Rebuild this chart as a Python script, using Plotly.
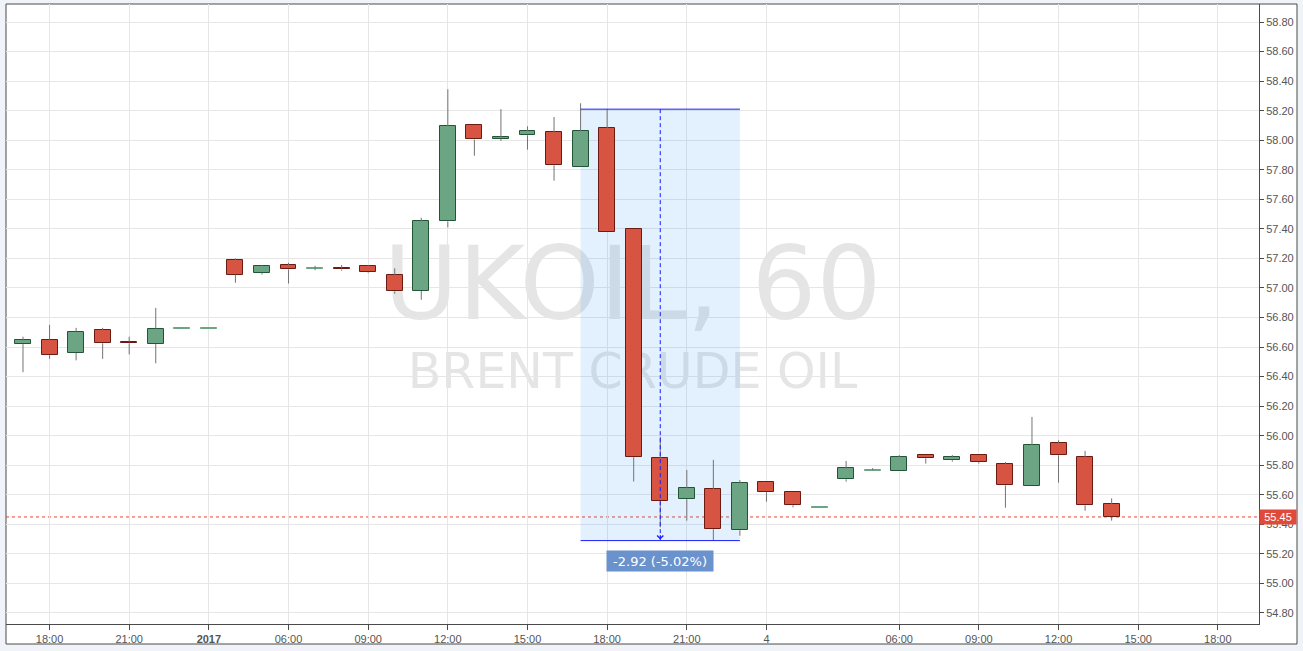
import plotly.graph_objects as go

# ---- data (UKOIL, 60-minute bars) ----
bar_index = list(range(42))
opens = [56.62, 56.65, 56.56, 56.715, 56.635, 56.62, 56.725, 56.725,
         57.19, 57.10, 57.155, 57.133, 57.133, 57.146, 57.086, 56.98,
         57.45, 58.10, 58.01, 58.033, 58.053, 57.82, 58.08, 57.397,
         55.847, 55.57, 55.637, 55.36, 55.685, 55.617, 55.515, 55.705,
         55.766, 55.759, 55.867, 55.834, 55.867, 55.807, 55.658, 55.949,
         55.854, 55.536]
highs = [56.67, 56.75, 56.73, 56.73, 56.67, 56.865, 56.725, 56.725,
         57.20, 57.155, 57.17, 57.15, 57.155, 57.155, 57.133, 57.475,
         58.345, 58.10, 58.21, 58.094, 58.157, 58.25, 58.21, 57.40,
         55.993, 55.768, 55.836, 55.70, 55.685, 55.617, 55.515, 55.829,
         55.781, 55.869, 55.867, 55.869, 55.867, 55.822, 56.127, 55.969,
         55.897, 55.576]
lows = [56.43, 56.52, 56.51, 56.52, 56.55, 56.49, 56.725, 56.725,
        57.035, 57.09, 57.03, 57.12, 57.117, 57.10, 56.961, 56.92,
        57.41, 57.895, 57.995, 57.936, 57.726, 57.82, 57.377, 55.69,
        55.38, 55.425, 55.29, 55.323, 55.553, 55.515, 55.515, 55.689,
        55.766, 55.759, 55.811, 55.824, 55.811, 55.513, 55.658, 55.682,
        55.492, 55.425]
closes = [56.645, 56.545, 56.705, 56.625, 56.625, 56.725, 56.725, 56.725,
          57.09, 57.15, 57.125, 57.133, 57.125, 57.106, 56.977, 57.45,
          58.095, 58.005, 58.02, 58.06, 57.83, 58.06, 57.377, 55.854,
          55.556, 55.644, 55.367, 55.678, 55.617, 55.529, 55.515, 55.779,
          55.766, 55.854, 55.847, 55.854, 55.82, 55.664, 55.935, 55.867,
          55.529, 55.45]

tick_positions = [1, 4, 7, 10, 13, 16, 19, 22, 25, 28, 33, 36, 39, 42, 45]
tick_labels = ["18:00", "21:00", "<b>2017</b>", "06:00", "09:00", "12:00",
               "15:00", "18:00", "21:00", "4", "06:00", "09:00", "12:00",
               "15:00", "18:00"]
price_ticks = [round(54.8 + 0.2 * i, 2) for i in range(21)]

# measurement tool: from bar 21 to bar 27, high of bar 22 to low of bar 26
measure_x0, measure_x1 = 21, 27
measure_top = highs[22]
measure_bottom = lows[26]
last_close = closes[-1]

# ---- styles ----
UP_FILL, UP_LINE = "#6ba583", "#225437"
DN_FILL, DN_LINE = "#d75442", "#6b1b12"
WICK = "#737373"
GRID = "#e6e6e6"
AXIS = "#4a4a4a"
MIN_BODY = 0.004

bases, heights, fills, borders = [], [], [], []
for o, c in zip(opens, closes):
    up = c >= o
    lo, hi = min(o, c), max(o, c)
    h = hi - lo
    flat = h < 1e-9
    if h < MIN_BODY:
        lo = (lo + hi) / 2 - MIN_BODY / 2
        h = MIN_BODY
    bases.append(lo)
    heights.append(h)
    fills.append(UP_FILL if up else DN_FILL)
    if flat:
        borders.append(UP_FILL if up else DN_FILL)
    else:
        borders.append(UP_LINE if up else DN_LINE)

wx, wy = [], []
for i, o, h, l, c in zip(bar_index, opens, highs, lows, closes):
    top, bot = max(o, c), min(o, c)
    if h > top:
        wx += [i, i, None]
        wy += [top, h, None]
    if l < bot:
        wx += [i, i, None]
        wy += [l, bot, None]

fig = go.Figure()
fig.add_trace(go.Bar(
    x=bar_index, y=heights, base=bases, width=0.6,
    marker=dict(color=fills, line=dict(color=borders, width=1)),
    hoverinfo="skip", showlegend=False))
fig.add_trace(go.Scatter(
    x=wx, y=wy, mode="lines", line=dict(color=WICK, width=1),
    hoverinfo="skip", showlegend=False, connectgaps=False))

# plot geometry (pixels)
W, H = 1303, 651
ML, MR, MT, MB = 6, 44, 4, 27
PW, PH = W - ML - MR, H - MT - MB

shapes = [
    # white chart frame including the axes area
    dict(type="rect", xref="paper", yref="paper", x0=0, x1=1 + 38 / PW,
         y0=-20 / PH, y1=1, fillcolor="white",
         line=dict(color=AXIS, width=1), layer="below"),
    # watermark
    dict(type="rect", xref="paper", yref="paper", x0=0, x1=1,
         y0=0.51, y1=0.61, line=dict(width=0), fillcolor="rgba(0,0,0,0)",
         layer="between",
         label=dict(text="UKOIL, 60", textposition="middle center",
                    font=dict(family="DejaVu Sans", size=102,
                              color="rgba(110,110,110,0.18)"))),
    dict(type="rect", xref="paper", yref="paper", x0=0, x1=1,
         y0=0.363, y1=0.463, line=dict(width=0), fillcolor="rgba(0,0,0,0)",
         layer="between",
         label=dict(text="BRENT CRUDE OIL", textposition="middle center",
                    font=dict(family="DejaVu Sans", size=49,
                              color="rgba(110,110,110,0.18)"))),
    # measurement area
    dict(type="rect", xref="x", yref="y", x0=measure_x0, x1=measure_x1,
         y0=measure_bottom, y1=measure_top,
         fillcolor="rgba(33,150,243,0.13)", line=dict(width=0),
         layer="between"),
    # last price dotted line
    dict(type="line", xref="paper", yref="y", x0=0, x1=1,
         y0=last_close, y1=last_close,
         line=dict(color="#e8442f", width=1, dash="dot"), layer="between"),
    # measurement lines
    dict(type="line", xref="x", yref="y", x0=measure_x0, x1=measure_x1,
         y0=measure_top, y1=measure_top,
         line=dict(color="#1a1aff", width=1), layer="above"),
    dict(type="line", xref="x", yref="y", x0=measure_x0, x1=measure_x1,
         y0=measure_bottom, y1=measure_bottom,
         line=dict(color="#1a1aff", width=1), layer="above"),
    dict(type="line", xref="x", yref="y",
         x0=(measure_x0 + measure_x1) / 2, x1=(measure_x0 + measure_x1) / 2,
         y0=measure_top, y1=measure_bottom,
         line=dict(color="#1a1aff", width=1, dash="4px,3px"), layer="above"),
]

change = measure_bottom - measure_top
pct = change / measure_top * 100
mid_x = (measure_x0 + measure_x1) / 2

annotations = [
    dict(x=mid_x, y=measure_bottom, xref="x", yref="y", text="",
         showarrow=True, ax=0, ay=-7, arrowhead=4, arrowsize=1.2,
         arrowwidth=1, arrowcolor="#1a1aff", standoff=1),
    dict(x=mid_x, y=measure_bottom, xref="x", yref="y",
         text=f"{change:.2f} ({pct:.2f}%)", showarrow=False,
         yshift=-20, bgcolor="#6a92cc", borderpad=3, width=100, height=14,
         font=dict(family="DejaVu Sans", size=13, color="white")),
    dict(x=1, y=last_close, xref="paper", yref="y", xanchor="left",
         text=f"{last_close:.2f}", showarrow=False, bgcolor="#df4a3a",
         borderpad=1, width=34, height=12,
         font=dict(family="Liberation Sans", size=11, color="white")),
]

fig.update_layout(
    width=W, height=H,
    margin=dict(l=ML, r=MR, t=MT, b=MB, pad=0),
    paper_bgcolor="#f0f3f7", plot_bgcolor="white",
    shapes=shapes, annotations=annotations,
    showlegend=False, bargap=0, hovermode=False,
    font=dict(family="Liberation Sans", size=11, color="#555555"),
    xaxis=dict(range=[-0.64, 46.55], tickmode="array",
               tickvals=tick_positions, ticktext=tick_labels,
               showgrid=True, gridcolor=GRID, gridwidth=1, zeroline=False,
               showline=True, linecolor=AXIS, linewidth=1,
               ticks="outside", ticklen=5, tickcolor=AXIS,
               tickfont=dict(family="Liberation Sans", size=11,
                             color="#555555"),
               fixedrange=True),
    yaxis=dict(range=[54.7255, 58.9218], side="right", tickmode="array",
               tickvals=price_ticks, tickformat=".2f",
               showgrid=True, gridcolor=GRID, gridwidth=1, zeroline=False,
               showline=True, linecolor=AXIS, linewidth=1,
               ticks="outside", ticklen=4, tickcolor=AXIS,
               tickfont=dict(family="Liberation Sans", size=11,
                             color="#555555"),
               fixedrange=True),
)

fig.write_html(
    "out.html",
    config={"displayModeBar": False},
    post_script="document.body.style.margin='0';"
                "document.body.style.padding='0';"
                "document.body.style.background='#f0f3f7';",
)
